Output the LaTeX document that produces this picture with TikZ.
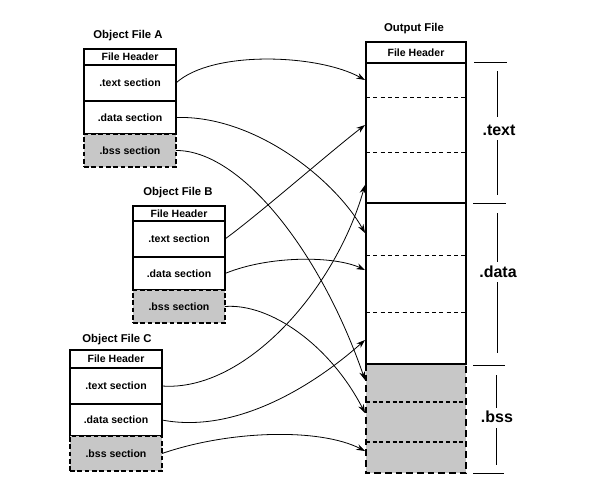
\documentclass[tikz,border=0pt]{standalone}
\usepackage{fontspec}
\setmainfont{Liberation Sans}
\usetikzlibrary{arrows.meta}
\begin{document}
\begin{tikzpicture}[x=0.75pt,y=-0.75pt,
  secbox/.style={draw, line width=0.9pt, minimum width=69pt, inner sep=0pt, outer sep=0pt, font=\bfseries\fontsize{7.9}{9}\selectfont},
  bssbox/.style={secbox, fill=black!22, dash pattern=on 3.5pt off 2pt, line width=1.1pt},
  title/.style={font=\bfseries\fontsize{8.5}{10}\selectfont, inner sep=0pt},
  seglabel/.style={font=\bfseries\fontsize{12}{14}\selectfont, inner sep=0pt},
  outpart/.style={minimum width=75pt, inner sep=0pt, outer sep=0pt},
  link/.style={line width=0.6pt, -{Stealth[length=6.5pt,width=4.5pt]}},
  thinrule/.style={line width=0.6pt},
  divthin/.style={line width=0.6pt, dash pattern=on 3pt off 2.5pt},
  divbss/.style={line width=1.1pt, dash pattern=on 3pt off 2pt}
]
\useasboundingbox[fill=white] (0,0) rectangle (610,482);

% ---------- Object File A ----------
\node[title] (titA) at (128,36) {Object File A};
\node[secbox, minimum height=12pt]    (hA) at (130,57)    {File Header};
\node[secbox, minimum height=27pt]    (tA) at (130,83)    {.text section};
\node[secbox, minimum height=24.75pt] (dA) at (130,117.5) {.data section};
\node[bssbox, minimum height=24.75pt] (bA) at (130,150.5) {.bss section};

% ---------- Object File B ----------
\node[title] (titB) at (178,193) {Object File B};
\node[secbox, minimum height=11.25pt] (hB) at (179,213.5) {File Header};
\node[secbox, minimum height=27pt]    (tB) at (179,239)   {.text section};
\node[secbox, minimum height=24.75pt] (dB) at (179,273.5) {.data section};
\node[bssbox, minimum height=24.75pt] (bB) at (179,306.5) {.bss section};

% ---------- Object File C ----------
\node[title] (titC) at (117,340) {Object File C};
\node[secbox, minimum height=13.5pt]  (hC) at (116,359)   {File Header};
\node[secbox, minimum height=27pt]    (tC) at (116,386)   {.text section};
\node[secbox, minimum height=24pt]    (dC) at (116,420)   {.data section};
\node[bssbox, minimum height=26.25pt] (bC) at (116,453.5) {.bss section};

% ---------- Output File ----------
\node[title] (titO) at (414,29) {Output File};
\node[outpart, minimum height=81.75pt, fill=black!22] (oBss) at (416,418.5) {};
\draw[divbss] (366,402) -- (466,402);
\draw[divbss] (366,442) -- (466,442);
\draw[line width=2pt, dash pattern=on 5pt off 3pt] (oBss.north west) -- (oBss.south west) -- (oBss.south east) -- (oBss.north east);
\node[outpart, minimum height=105pt]    (oText) at (416,133)   {};
\node[outpart, minimum height=120.75pt] (oData) at (416,283.5) {};
\draw[divthin] (366,97) -- (466,97);
\draw[divthin] (366,152) -- (466,152);
\draw[divthin] (366,255) -- (466,255);
\draw[divthin] (366,312) -- (466,312);
\node[outpart, minimum height=15.75pt, draw, line width=1.6pt, font=\bfseries\fontsize{7.9}{9}\selectfont] (hO) at (416,52.5) {File Header};
\draw[line width=1.6pt] (oText.north west) rectangle (oData.south east);
\draw[line width=1.6pt] (oText.south west) -- (oText.south east);

% arrow end points on the output file
\coordinate (eTA) at (365,80);
\coordinate (eTB) at (365,125);
\coordinate (eTC) at (365,185);
\coordinate (eDA) at (365,233);
\coordinate (eDB) at (365,270);
\coordinate (eDC) at (365,340);
\coordinate (eBA) at (365,380);
\coordinate (eBB) at (365,413);
\coordinate (eBC) at (365,451);

% ---------- connectors ----------
\draw[link] (tA.east) .. controls (212,50) and (318,54) .. (eTA);
\draw[link] (dA.east) .. controls (255,115) and (335,180) .. (eDA);
\draw[link] (bA.east) .. controls (240,150) and (320,250) .. (eBA);
\draw[link] (tB.east) .. controls (258,215) and (330,152) .. (eTB);
\draw[link] (dB.east) .. controls (270,255) and (335,256) .. (eDB);
\draw[link] (bB.east) .. controls (270,303) and (330,345) .. (eBB);
\draw[link] (tC.east) .. controls (245,392) and (335,290) .. (eTC);
\draw[link] (dC.east) .. controls (240,435) and (320,380) .. (eDC);
\draw[link] (bC.east) .. controls (230,430) and (320,428) .. (eBC);

% ---------- right-hand brackets ----------
\node[seglabel] (lText) at (499,130) {.text};
\node[seglabel] (lData) at (498,272) {.data};
\node[seglabel] (lBss)  at (497,417) {.bss};
\draw[thinrule] (474,62) -- (507,62);
\draw[thinrule] (473,203) -- (506,203);
\draw[thinrule] (473,365) -- (505,365);
\draw[thinrule] (473,473) -- (504,473);
\draw[thinrule] (497,71) -- (497,117);
\draw[thinrule] (497,140) -- (497,195);
\draw[thinrule] (497,213) -- (497,262);
\draw[thinrule] (497,282) -- (497,353);
\draw[thinrule] (496,375) -- (496,408);
\draw[thinrule] (496,428) -- (496,465);
\end{tikzpicture}
\end{document}
